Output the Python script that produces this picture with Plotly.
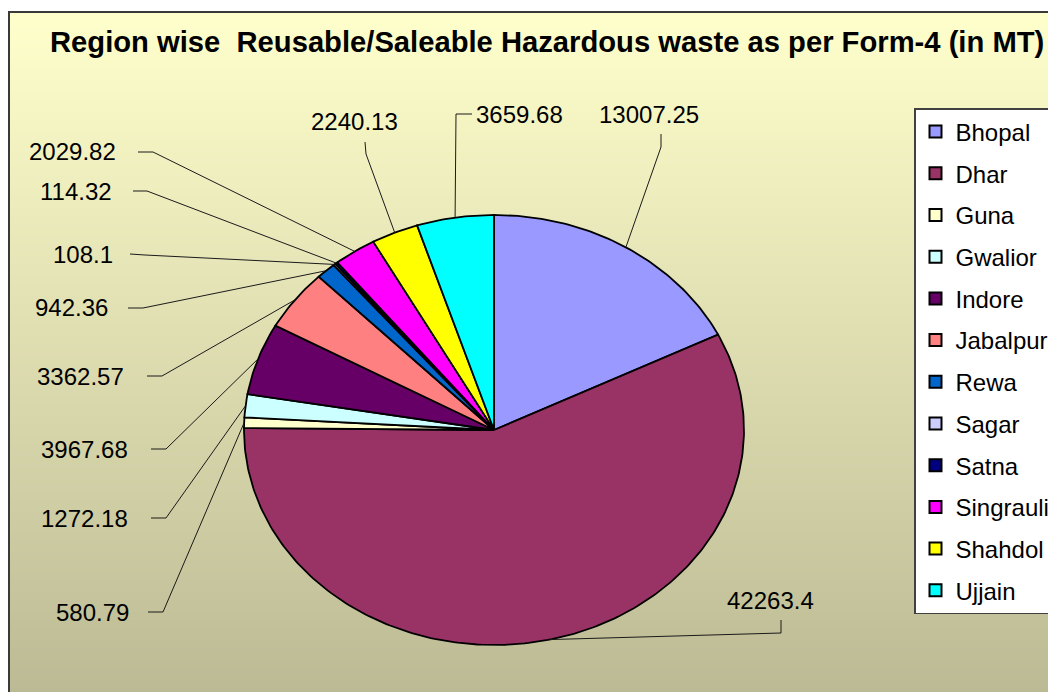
import numpy as np
import plotly.graph_objects as go

# ---------------- data ----------------
regions = ["Bhopal", "Dhar", "Guna", "Gwalior", "Indore", "Jabalpur",
           "Rewa", "Sagar", "Satna", "Singrauli", "Shahdol", "Ujjain"]
waste_mt = [13007.25, 42263.4, 580.79, 1272.18, 3967.68, 3362.57,
            942.36, 108.1, 114.32, 2029.82, 2240.13, 3659.68]
value_text = ["13007.25", "42263.4", "580.79", "1272.18", "3967.68", "3362.57",
              "942.36", "108.1", "114.32", "2029.82", "2240.13", "3659.68"]
title_text = "Region wise  Reusable/Saleable Hazardous waste as per Form-4 (in MT)"

# ---------------- styles / layout ----------------
slice_colors = ["#9999FF", "#993366", "#FFFFCC", "#CCFFFF", "#660066", "#FF8080",
                "#0066CC", "#CCCCFF", "#000080", "#FF00FF", "#FFFF00", "#00FFFF"]
W, H = 1056, 692
OFF = 8                                   # page body margin offset
CX, CY, RX, RY = 494, 430, 250, 215      # elliptical pie geometry (pixels)
FONT = "Liberation Sans, Arial, sans-serif"

# label centre positions and leader-line start/elbow points (manual layout, pixels)
label_pos = [(649, 114), (770, 600), (92, 612), (84, 518), (84, 449), (80, 376),
             (71, 307), (83, 254), (76, 191), (72, 151), (354, 121), (519, 114)]
leader_start = [(661, 134), (781, 620), (148, 612), (151, 518), (151, 449), (147, 376),
                (128, 308), (130, 254), (133, 191), (138, 152), (365, 142), (472, 114)]
leader_elbow = [(661, 147), (781, 633), (163, 612), (166, 518), (166, 449), (162, 376),
                (143, 308), (145, 255), (147, 191), (153, 152), (366, 154), (456, 114)]

fig = go.Figure()

# ---------------- background gradient ----------------
top_rgb = np.array([255, 255, 204])
bot_rgb = np.array([188, 186, 148])
y0_bg = 12
band = 4
shapes = []
for yb in range(y0_bg, H + OFF, band):
    t = min(1.0, (yb - y0_bg) / (H - y0_bg))
    c = top_rgb + (bot_rgb - top_rgb) * t
    shapes.append(dict(type="rect", xref="x", yref="y", x0=9, x1=W + 20, y0=yb, y1=yb + band + 1,
                       fillcolor="rgb(%d,%d,%d)" % tuple(c.round().astype(int)),
                       line=dict(width=0), layer="below"))
shapes.append(dict(type="rect", xref="x", yref="y", x0=9, x1=W + 30, y0=12, y1=H + 30,
                   line=dict(color="#3a3a3a", width=2), fillcolor="rgba(0,0,0,0)", layer="below"))

# ---------------- pie slices (elliptical, clockwise from 12 o'clock) ----------------
vals = np.array(waste_mt, dtype=float)
frac = vals / vals.sum()
cum = np.concatenate([[0.0], np.cumsum(frac)])


def ell(theta):
    return CX + RX * np.sin(theta), CY - RY * np.cos(theta)


for i, name in enumerate(regions):
    a0, a1 = cum[i] * 2 * np.pi, cum[i + 1] * 2 * np.pi
    n = max(3, int(np.ceil((a1 - a0) / (2 * np.pi) * 400)))
    th = np.linspace(a0, a1, n)
    xs, ys = ell(th)
    px = np.concatenate([[CX], xs, [CX]])
    py = np.concatenate([[CY], ys, [CY]])
    fig.add_trace(go.Scatter(x=px, y=py, mode="lines", fill="toself",
                             fillcolor=slice_colors[i], line=dict(color="black", width=1.8),
                             hoverinfo="text", text=f"{name}: {value_text[i]}",
                             showlegend=False))

# ---------------- leader lines ----------------
lx, ly = [], []
for i in range(len(regions)):
    mid = (cum[i] + cum[i + 1]) * np.pi
    ax, ay = ell(mid)
    lx += [leader_start[i][0], leader_elbow[i][0], ax, None]
    ly += [leader_start[i][1], leader_elbow[i][1], ay, None]
fig.add_trace(go.Scatter(x=lx, y=ly, mode="lines", line=dict(color="#1a1a1a", width=1),
                         hoverinfo="skip", showlegend=False))

# ---------------- legend entries ----------------
for i, name in enumerate(regions):
    fig.add_trace(go.Scatter(x=[None], y=[None], mode="markers", name=name,
                             legendgroup=name,
                             marker=dict(symbol="square", size=14, color=slice_colors[i],
                                         line=dict(color="black", width=1.5))))

# ---------------- labels ----------------
annotations = []
for i in range(len(regions)):
    annotations.append(dict(x=label_pos[i][0], y=label_pos[i][1], xref="x", yref="y",
                            text=value_text[i], showarrow=False, xanchor="center",
                            yanchor="middle", font=dict(family=FONT, size=24, color="black")))
annotations.append(dict(x=547, y=42, xref="x", yref="y", text=title_text, showarrow=False,
                        xanchor="center", yanchor="middle",
                        font=dict(family=FONT, size=29.2, color="black", weight="bold")))

fig.update_layout(
    width=W, height=H, margin=dict(l=0, r=0, t=0, b=0),
    paper_bgcolor="white", plot_bgcolor="rgba(0,0,0,0)",
    xaxis=dict(range=[OFF, W + OFF], visible=False, fixedrange=True),
    yaxis=dict(range=[H + OFF, OFF], visible=False, fixedrange=True),
    shapes=shapes, annotations=annotations,
    showlegend=True,
    legend=dict(x=(914 - OFF) / W, y=1 - (108 - OFF) / H, xanchor="left", yanchor="top",
                bgcolor="white", bordercolor="#404040", borderwidth=1.5,
                font=dict(family=FONT, size=24, color="black"),
                tracegroupgap=7.5, itemsizing="constant"),
)

fig.write_html("out.html")
